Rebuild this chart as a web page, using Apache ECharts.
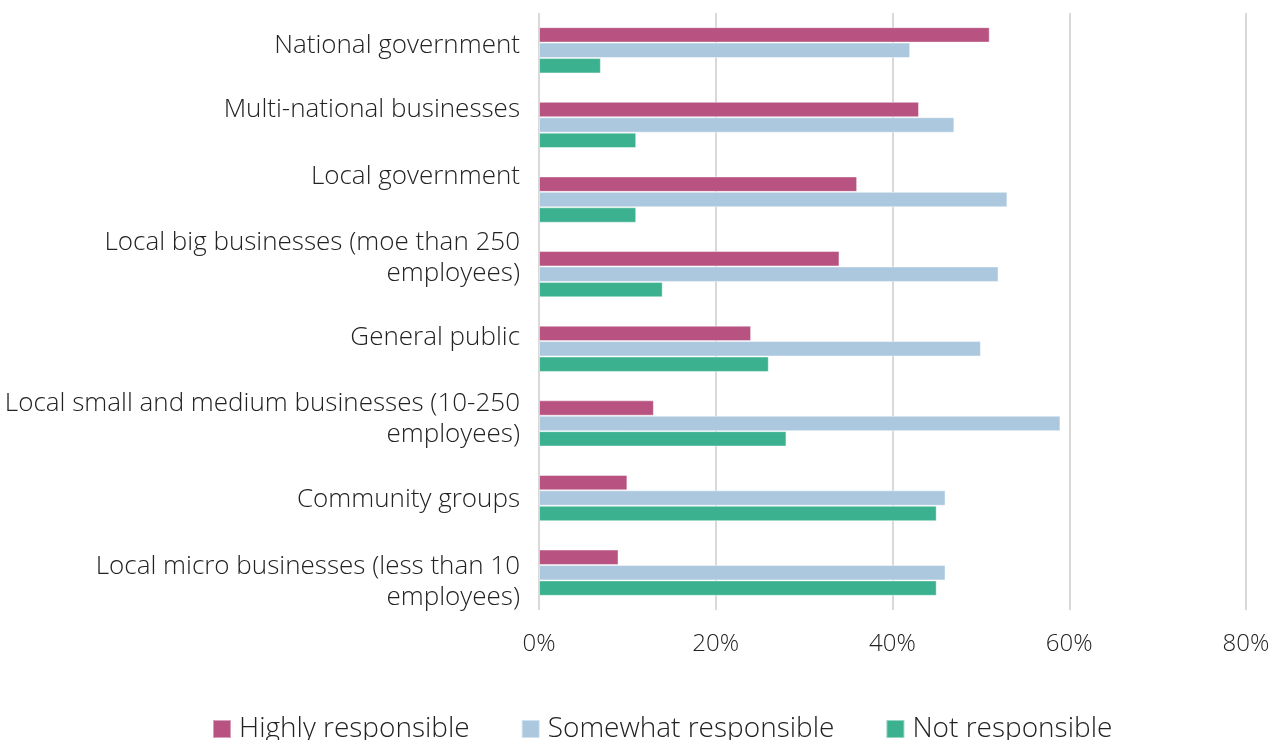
<!DOCTYPE html>
<html>
<head>
<meta charset="utf-8">
<script src="https://cdn.jsdelivr.net/npm/echarts@6/dist/echarts.min.js"></script>
<style>
html,body{margin:0;padding:0;background:#fff;}
#chart{width:1281px;height:740px;}
</style>
</head>
<body>
<div id="chart"></div>
<script>
const categories = [
  "National government",
  "Multi-national businesses",
  "Local government",
  "Local big businesses (moe than 250\nemployees)",
  "General public",
  "Local small and medium businesses (10-250\nemployees)",
  "Community groups",
  "Local micro businesses (less than 10\nemployees)"
];
const highly = [51, 43, 36, 34, 24, 13, 10, 9];
const somewhat = [42, 47, 53, 52, 50, 59, 46, 46];
const notResp = [7, 11, 11, 14, 26, 28, 45, 45];
const seriesNames = ["Highly responsible", "Somewhat responsible", "Not responsible"];
const colors = ["#b85281", "#abc8df", "#3bb190"];
const xTicks = [0, 20, 40, 60, 80];

// layout only: vertical nudge of each category label (px, negative = up)
const labelShift = [-5, -15, -23, -16, -11, -4, 2, 9];

const font = "Open Sans";
const chart = echarts.init(document.getElementById('chart'));
const mk = (name, data, color) => ({
  name: name,
  type: 'bar',
  data: data.map(v => v / 100),
  itemStyle: { color: color, borderColor: 'rgba(255,255,255,0.45)', borderWidth: 1 },
  barGap: '0%',
  barCategoryGap: '38%',
  silent: true
});
const rich = { t: { fontFamily: font, fontWeight: 300, fontSize: 26, color: '#222', lineHeight: 31, align: 'right' } };
labelShift.forEach((s, i) => { rich['g' + i] = { fontSize: 1, lineHeight: Math.max(1, Math.abs(s) * 2), align: 'right' }; });
chart.setOption({
  animation: false,
  textStyle: { fontFamily: font, fontWeight: 300 },
  color: colors,
  grid: { left: 539, right: 35, top: 13, bottom: 130, containLabel: false },
  legend: {
    top: 715,
    left: 212,
    padding: 0,
    itemWidth: 18,
    itemHeight: 18,
    itemGap: 51,
    icon: 'rect',
    textStyle: { fontFamily: font, fontWeight: 300, fontSize: 28, color: '#222', padding: [0,0,0,3] },
    data: seriesNames
  },
  xAxis: {
    type: 'value',
    min: xTicks[0] / 100,
    max: xTicks[xTicks.length - 1] / 100,
    interval: 0.2,
    axisLine: { show: false },
    axisTick: { show: false },
    splitLine: { show: true, lineStyle: { color: '#d9d9d9', width: 2 } },
    axisLabel: {
      fontFamily: font, fontWeight: 300, fontSize: 24, color: '#222', margin: 22,
      formatter: v => Math.round(v * 100) + '%'
    }
  },
  yAxis: {
    type: 'category',
    inverse: true,
    data: categories,
    axisLine: { show: false },
    axisTick: { show: false },
    axisLabel: {
      fontFamily: font, fontWeight: 300, fontSize: 26, color: '#222', margin: 19,
      lineHeight: 31, align: 'right',
      formatter: (val, idx) => {
        const body = val.split('\n').map(l => '{t|' + l + '}').join('\n');
        const s = labelShift[idx];
        if (s < 0) return body + '\n{g' + idx + '| }';
        if (s > 0) return '{g' + idx + '| }\n' + body;
        return body;
      },
      rich: rich
    }
  },
  series: [
    mk(seriesNames[0], highly, colors[0]),
    mk(seriesNames[1], somewhat, colors[1]),
    mk(seriesNames[2], notResp, colors[2])
  ]
});
</script>
</body>
</html>
